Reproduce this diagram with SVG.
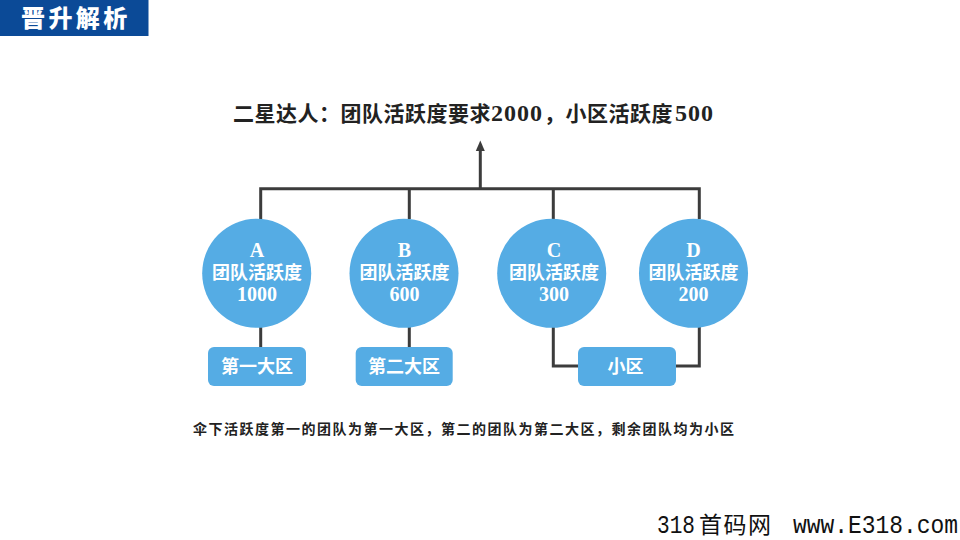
<svg xmlns="http://www.w3.org/2000/svg" width="960" height="540" viewBox="0 0 960 540">
<style>
text{font-family:"Liberation Serif","Noto Sans CJK SC",serif;font-weight:700}
.c{font-family:"Noto Sans CJK SC","Liberation Serif",sans-serif}
.n{fill:#55acE4}
.w{fill:#fff;font-size:18px;text-anchor:middle}
.d{font-size:20px}
.l{fill:none;stroke:#3c3c3c;stroke-width:3}
.t{fill:#222}
.m{font-family:"Liberation Mono",monospace;font-weight:400;fill:#111;font-size:25px}
</style>
<defs><marker id="a" markerUnits="userSpaceOnUse" markerWidth="11" markerHeight="10" refX="0" refY="5" orient="auto" viewBox="0 0 11 10"><path d="M0 .5L10.500 5L0 9.500Z" fill="#3c3c3c"/></marker></defs>
<g id="header"><rect width="148.500" height="36" fill="#0b4a97"/><text class="c" x="21" y="27" fill="#fff" font-size="24" letter-spacing="3.400" style="font-weight:900">晋升解析</text></g>
<g id="title"><text class="t" x="233" y="121" font-size="21" letter-spacing=".5"><tspan class="c">二星达人：团队活跃度要求</tspan><tspan font-size="24" letter-spacing="1">2000</tspan><tspan class="c" x="544">，小区活跃度</tspan><tspan x="675" font-size="24" letter-spacing="1">500</tspan></text></g>
<g id="connectors">
<path class="l" d="M260.700 219V188.700H699.300V219M409.300 188.700V219M553.300 188.700V219"/>
<path class="l" d="M480.300 188.700V151" marker-end="url(#a)"/>
<path class="l" d="M260.700 327V347M409.300 327V347M553.300 327V366H578M699.300 327V366H676"/>
</g>
<g id="node-a"><circle class="n" cx="256.700" cy="273.300" r="54.500"/><text class="w"><tspan class="d" x="257" y="257">A</tspan><tspan class="c" x="257" y="279">团队活跃度</tspan><tspan class="d" x="257" y="301">1000</tspan></text></g>
<g id="node-b"><circle class="n" cx="404" cy="273.300" r="54.500"/><text class="w"><tspan class="d" x="404.500" y="257">B</tspan><tspan class="c" x="404.500" y="279">团队活跃度</tspan><tspan class="d" x="404.500" y="301">600</tspan></text></g>
<g id="node-c"><circle class="n" cx="551.700" cy="273.300" r="54.500"/><text class="w"><tspan class="d" x="554" y="257">C</tspan><tspan class="c" x="554" y="279">团队活跃度</tspan><tspan class="d" x="554" y="301">300</tspan></text></g>
<g id="node-d"><circle class="n" cx="693.500" cy="273.300" r="54.500"/><text class="w"><tspan class="d" x="693.500" y="257">D</tspan><tspan class="c" x="693.500" y="279">团队活跃度</tspan><tspan class="d" x="693.500" y="301">200</tspan></text></g>
<g id="zone-1"><rect class="n" x="208" y="347" width="98" height="39" rx="6"/><text class="w c" x="257" y="373">第一大区</text></g>
<g id="zone-2"><rect class="n" x="355.700" y="347" width="97" height="39" rx="6"/><text class="w c" x="404" y="373">第二大区</text></g>
<g id="zone-small"><rect class="n" x="578" y="347" width="98" height="39" rx="6"/><text class="w c" x="625.500" y="373">小区</text></g>
<g id="note"><text class="c t" x="193" y="434" font-size="14" letter-spacing="1.500">伞下活跃度第一的团队为第一大区，第二的团队为第二大区，剩余团队均为小区</text></g>
<g id="watermark"><text class="m" x="657" y="533" textLength="38" lengthAdjust="spacingAndGlyphs">318</text><text x="699" y="533" font-size="23" class="c" style="font-weight:400;fill:#111" letter-spacing="1.500">首码网</text><text class="m" x="793" y="533" textLength="165" lengthAdjust="spacingAndGlyphs">www.E318.com</text></g>
</svg>
